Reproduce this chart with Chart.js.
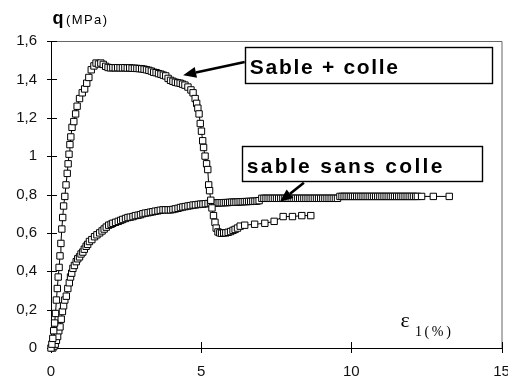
<!DOCTYPE html>
<html>
<head>
<meta charset="utf-8">
<script src="https://cdn.jsdelivr.net/npm/chart.js@4/dist/chart.umd.min.js"></script>
<style>
  html, body { margin: 0; padding: 0; background: #fff; }
  #wrap { width: 508px; height: 381px; }
</style>
</head>
<body>
<div id="wrap"><canvas id="c" width="508" height="381"></canvas></div>
<script>
// Essai triaxial : déviateur q (MPa) en fonction de la déformation axiale ε1 (%)

// Sable + colle
const glueStrain = [
  0, 0.03, 0.06, 0.09, 0.12, 0.15, 0.18, 0.21, 0.24, 0.27,
  0.30, 0.33, 0.36, 0.39, 0.42, 0.46, 0.50, 0.54, 0.57, 0.60,
  0.63, 0.66, 0.70, 0.76, 0.82, 0.87, 0.95, 1.04, 1.12, 1.19,
  1.26, 1.34, 1.43, 1.50, 1.58, 1.66, 1.74, 1.82, 1.90, 1.98,
  2.06, 2.14, 2.22, 2.30, 2.38, 2.46, 2.54, 2.62, 2.70, 2.78,
  2.86, 2.94, 3.02, 3.10, 3.18, 3.26, 3.34, 3.42, 3.50, 3.58,
  3.66, 3.74, 3.82, 3.90, 3.98, 4.06, 4.14, 4.22, 4.30, 4.38,
  4.46, 4.56, 4.66, 4.73, 4.80, 4.85, 4.89, 4.93, 4.97, 5.01,
  5.05, 5.08, 5.13, 5.18, 5.22, 5.25, 5.28, 5.32, 5.36, 5.41,
  5.46, 5.50, 5.56, 5.62, 5.68, 5.75, 5.82, 5.90, 5.98, 6.06,
  6.13, 6.21, 6.30, 6.45, 6.78, 7.12, 7.43, 7.73, 8.04, 8.35, 8.65
];
const glueStress = [
  0, 0.02, 0.05, 0.09, 0.13, 0.18, 0.25, 0.31, 0.37, 0.42,
  0.48, 0.545, 0.62, 0.68, 0.74, 0.79, 0.85, 0.91, 0.96, 1.01,
  1.06, 1.10, 1.15, 1.18, 1.22, 1.26, 1.30, 1.33, 1.35, 1.38,
  1.41, 1.45, 1.47, 1.485, 1.48, 1.485, 1.478, 1.468, 1.462, 1.46,
  1.461, 1.46, 1.461, 1.46, 1.46, 1.461, 1.459, 1.46, 1.458, 1.458,
  1.457, 1.456, 1.455, 1.453, 1.45, 1.447, 1.443, 1.437, 1.435, 1.43,
  1.427, 1.422, 1.418, 1.405, 1.395, 1.39, 1.385, 1.382, 1.38, 1.375,
  1.37, 1.36, 1.345, 1.33, 1.30, 1.275, 1.25, 1.22, 1.17, 1.13,
  1.08, 1.045, 1.0, 0.96, 0.93, 0.85, 0.82, 0.77, 0.73, 0.69,
  0.655, 0.625, 0.605, 0.60, 0.598, 0.60, 0.60, 0.603, 0.607, 0.613,
  0.618, 0.625, 0.635, 0.64, 0.645, 0.65, 0.66, 0.685, 0.685, 0.69, 0.69
];

// Sable sans colle
const sandStrain = [
  0.06, 0.10, 0.14, 0.18, 0.22, 0.26, 0.30, 0.34, 0.38, 0.42,
  0.46, 0.51, 0.56, 0.61, 0.65, 0.69, 0.73, 0.78, 0.84, 0.89,
  0.95, 1.00, 1.06, 1.11, 1.17, 1.22, 1.28, 1.36, 1.45, 1.53,
  1.62, 1.70, 1.77, 1.84, 1.92, 2.00, 2.06, 2.15, 2.24, 2.32,
  2.39, 2.48, 2.56, 2.64, 2.73, 2.81, 2.90, 2.98, 3.06, 3.14,
  3.23, 3.31, 3.39, 3.47, 3.56, 3.64, 3.73, 3.81, 3.90, 3.98,
  4.06, 4.14, 4.23, 4.31, 4.39, 4.47, 4.56, 4.64, 4.73, 4.81,
  4.90, 4.98, 5.06, 5.14, 5.23, 5.31,
  5.39, 5.46, 5.53, 5.60, 5.67, 5.74, 5.81, 5.88, 5.95, 6.02,
  6.09, 6.16, 6.23, 6.30, 6.37, 6.44, 6.51, 6.58, 6.65, 6.72,
  6.79, 6.86, 6.93,
  7.02, 7.09, 7.16, 7.23, 7.30, 7.37, 7.44, 7.51, 7.58, 7.65,
  7.72, 7.79, 7.86, 7.93, 8.00, 8.07, 8.14, 8.21, 8.28, 8.35,
  8.42, 8.49, 8.56, 8.63, 8.70, 8.77, 8.84, 8.91, 8.98, 9.05,
  9.12, 9.19, 9.26, 9.33, 9.40, 9.47, 9.54,
  9.62, 9.69, 9.76, 9.83, 9.90, 9.97, 10.04, 10.11, 10.18, 10.25,
  10.32, 10.39, 10.46, 10.53, 10.60, 10.67, 10.74, 10.81, 10.88, 10.95,
  11.02, 11.09, 11.16, 11.23, 11.30, 11.37, 11.44, 11.51, 11.58, 11.65,
  11.72, 11.79, 11.86, 11.93, 12.00, 12.07, 12.14, 12.20,
  12.34, 12.73, 13.26
];
const sandStress = [
  0.0, 0.01, 0.02, 0.04, 0.06, 0.09, 0.11, 0.15, 0.19, 0.22,
  0.25, 0.27, 0.31, 0.34, 0.37, 0.39, 0.415, 0.43, 0.45, 0.465,
  0.475, 0.49, 0.50, 0.515, 0.53, 0.54, 0.555, 0.565, 0.58, 0.59,
  0.60, 0.61, 0.62, 0.63, 0.64, 0.645, 0.65, 0.655, 0.66, 0.665,
  0.67, 0.675, 0.68, 0.682, 0.685, 0.69, 0.692, 0.695, 0.70, 0.703,
  0.705, 0.708, 0.71, 0.713, 0.715, 0.718, 0.72, 0.72, 0.72, 0.72,
  0.722, 0.725, 0.728, 0.732, 0.735, 0.737, 0.74, 0.742, 0.745, 0.746,
  0.748, 0.75, 0.75, 0.752, 0.753, 0.755,
  0.755, 0.756, 0.756, 0.757, 0.757, 0.757, 0.758, 0.758, 0.759, 0.76,
  0.76, 0.76, 0.761, 0.762, 0.762, 0.763, 0.763, 0.764, 0.764, 0.765,
  0.765, 0.766, 0.768,
  0.78, 0.78, 0.78, 0.78, 0.78, 0.78, 0.78, 0.78, 0.78, 0.78,
  0.78, 0.78, 0.78, 0.78, 0.78, 0.78, 0.78, 0.78, 0.78, 0.78,
  0.78, 0.78, 0.78, 0.78, 0.78, 0.78, 0.78, 0.78, 0.78, 0.78,
  0.78, 0.78, 0.78, 0.78, 0.78, 0.78, 0.78,
  0.79, 0.79, 0.79, 0.79, 0.79, 0.79, 0.79, 0.79, 0.79, 0.79,
  0.79, 0.79, 0.79, 0.79, 0.79, 0.79, 0.79, 0.79, 0.79, 0.79,
  0.79, 0.79, 0.79, 0.79, 0.79, 0.79, 0.79, 0.79, 0.79, 0.79,
  0.79, 0.79, 0.79, 0.79, 0.79, 0.79, 0.79, 0.79,
  0.79, 0.79, 0.79
];

const xTickValues = [0, 5, 10, 15];
const yTickValues = [0, 0.2, 0.4, 0.6, 0.8, 1.0, 1.2, 1.4, 1.6];
const seriesLabels = ['Sable + colle', 'sable sans colle'];

const toPoints = (xs, ys) => xs.map((x, i) => ({ x: x, y: ys[i] }));
const frenchNumber = v => String(Math.round(v * 10) / 10).replace('.', ',');

// Callouts anchored in data units
const callouts = [
  { text: seriesLabels[0], box: [6.45, 1.568, 14.7, 1.379], textAt: [6.62, 1.430],
    font: 'bold 21px "Liberation Sans", Arial, sans-serif', spacing: 1.7,
    arrowFrom: [6.45, 1.491], arrowTo: [4.4, 1.422] },
  { text: seriesLabels[1], box: [6.37, 1.052, 14.35, 0.871], textAt: [6.52, 0.914],
    font: 'bold 21px "Liberation Sans", Arial, sans-serif', spacing: 2.3,
    arrowFrom: [8.42, 0.861], arrowTo: [7.62, 0.762] }
];

function spacedText(ctx, str, x, y, spacing) {
  let cx = x;
  for (const ch of str) {
    ctx.fillText(ch, cx, y);
    cx += ctx.measureText(ch).width + spacing;
  }
}

function arrow(ctx, x1, y1, x2, y2) {
  const ang = Math.atan2(y2 - y1, x2 - x1);
  const headLen = 13, headHalf = 5.5;
  const bx = x2 - headLen * Math.cos(ang), by = y2 - headLen * Math.sin(ang);
  ctx.beginPath();
  ctx.moveTo(x1, y1);
  ctx.lineTo(bx, by);
  ctx.lineWidth = 2.6;
  ctx.strokeStyle = '#000';
  ctx.stroke();
  ctx.beginPath();
  ctx.moveTo(x2, y2);
  ctx.lineTo(bx + headHalf * Math.sin(ang), by - headHalf * Math.cos(ang));
  ctx.lineTo(bx - headHalf * Math.sin(ang), by + headHalf * Math.cos(ang));
  ctx.closePath();
  ctx.fillStyle = '#000';
  ctx.fill();
}

const decorations = {
  id: 'decorations',
  beforeDatasetsDraw(chart) {
    const { ctx, chartArea: a, scales: { x, y } } = chart;
    ctx.save();
    // plot frame (top and right)
    ctx.strokeStyle = '#666';
    ctx.lineWidth = 1;
    ctx.beginPath();
    ctx.moveTo(a.left, a.top + 0.5);
    ctx.lineTo(a.right + 0.5, a.top + 0.5);
    ctx.lineTo(a.right + 0.5, a.bottom);
    ctx.stroke();
    // axes
    ctx.strokeStyle = '#000';
    ctx.beginPath();
    ctx.moveTo(a.left + 0.5, a.top);
    ctx.lineTo(a.left + 0.5, a.bottom + 0.5);
    ctx.lineTo(a.right + 0.5, a.bottom + 0.5);
    ctx.stroke();
    // tick marks crossing the axes
    ctx.beginPath();
    yTickValues.forEach(v => {
      const py = Math.round(y.getPixelForValue(v)) + 0.5;
      ctx.moveTo(a.left - 4, py);
      ctx.lineTo(a.left + 6, py);
    });
    xTickValues.forEach(v => {
      const px = Math.round(x.getPixelForValue(v)) + 0.5;
      ctx.moveTo(px, a.bottom - 6);
      ctx.lineTo(px, a.bottom + 5);
    });
    ctx.stroke();
    ctx.restore();
  },
  afterDatasetsDraw(chart) {
    const { ctx, scales: { x, y } } = chart;
    const X = v => x.getPixelForValue(v), Y = v => y.getPixelForValue(v);
    ctx.save();
    // axis titles
    ctx.fillStyle = '#000';
    ctx.textBaseline = 'alphabetic';
    ctx.textAlign = 'left';
    ctx.font = 'bold 18px "Liberation Sans", Arial, sans-serif';
    ctx.fillText('q', X(0.05), Y(1.69));
    ctx.font = '13px "Liberation Sans", Arial, sans-serif';
    spacedText(ctx, '(MPa)', X(0.5), Y(1.69), 1.4);
    ctx.font = '22px "Liberation Serif", "Times New Roman", serif';
    ctx.fillText('ε', X(11.64), Y(0.109));
    ctx.font = '14px "Liberation Serif", "Times New Roman", serif';
    spacedText(ctx, '1(%)', X(12.12), Y(0.06), 2.6);
    // callout boxes and arrows
    callouts.forEach(c => {
      const [x0, y0, x1, y1] = c.box;
      const l = Math.round(X(x0)) + 0.5, t = Math.round(Y(y0)) + 0.5;
      const r = Math.round(X(x1)) + 0.5, b = Math.round(Y(y1)) + 0.5;
      ctx.fillStyle = '#fff';
      ctx.fillRect(l, t, r - l, b - t);
      ctx.strokeStyle = '#000';
      ctx.lineWidth = 1.4;
      ctx.strokeRect(l, t, r - l, b - t);
      ctx.fillStyle = '#000';
      ctx.font = c.font;
      spacedText(ctx, c.text, X(c.textAt[0]), Y(c.textAt[1]), c.spacing);
      arrow(ctx, X(c.arrowFrom[0]), Y(c.arrowFrom[1]), X(c.arrowTo[0]), Y(c.arrowTo[1]));
    });
    ctx.restore();
  }
};

const seriesStyle = {
  showLine: true,
  borderColor: '#000',
  borderWidth: 1,
  pointStyle: 'rect',
  pointRadius: 4.5,
  pointBorderWidth: 1,
  pointBorderColor: '#000',
  pointBackgroundColor: '#fff',
  pointHoverRadius: 4.5,
  clip: false,
  tension: 0
};

const noPadding = s => { s.paddingLeft = 0; s.paddingRight = 0; s.paddingTop = 0; s.paddingBottom = 0; };

new Chart(document.getElementById('c'), {
  type: 'scatter',
  data: {
    datasets: [
      Object.assign({ label: seriesLabels[0], data: toPoints(glueStrain, glueStress) }, seriesStyle),
      Object.assign({ label: seriesLabels[1], data: toPoints(sandStrain, sandStress) }, seriesStyle)
    ]
  },
  options: {
    responsive: false,
    animation: false,
    devicePixelRatio: 1,
    layout: { padding: { left: 0, top: 41, right: 6.5, bottom: 0 } },
    plugins: { legend: { display: false }, tooltip: { enabled: false } },
    scales: {
      x: {
        type: 'linear', min: 0, max: 15,
        grid: { display: false, drawTicks: false },
        border: { display: false },
        afterBuildTicks: s => { s.ticks = xTickValues.map(v => ({ value: v })); },
        ticks: {
          color: '#111', padding: 15, maxRotation: 0,
          font: { family: '"Liberation Sans", Arial, sans-serif', size: 15 },
          callback: v => frenchNumber(v)
        },
        afterFit: s => { s.height = 33; noPadding(s); }
      },
      y: {
        type: 'linear', min: 0, max: 1.6,
        grid: { display: false, drawTicks: false },
        border: { display: false },
        afterBuildTicks: s => { s.ticks = yTickValues.map(v => ({ value: v })); },
        ticks: {
          color: '#111', padding: 14,
          font: { family: '"Liberation Sans", Arial, sans-serif', size: 15 },
          callback: v => frenchNumber(v)
        },
        afterFit: s => { s.width = 51; noPadding(s); }
      }
    }
  },
  plugins: [decorations]
});
</script>
</body>
</html>
